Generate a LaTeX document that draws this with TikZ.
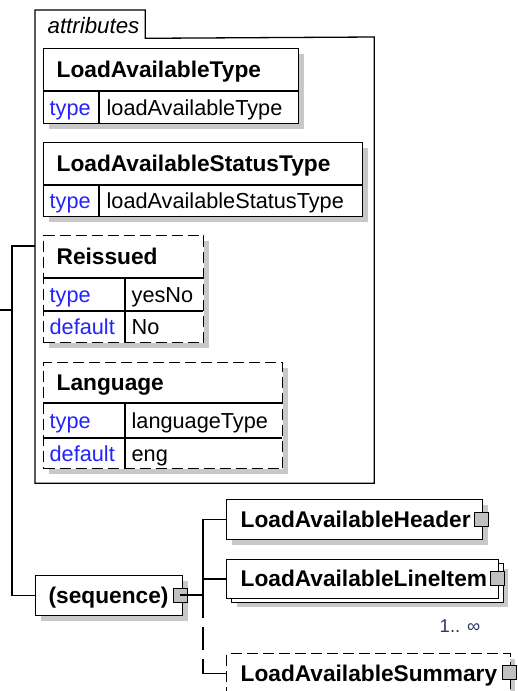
\documentclass[tikz,border=0pt]{standalone}
\usepackage{fontspec}
\setmainfont{Liberation Sans}
\usetikzlibrary{shadows}
\definecolor{keyblue}{RGB}{35,35,250}
\definecolor{occblue}{RGB}{45,55,95}
\definecolor{shade}{RGB}{200,200,200}
\definecolor{togglegray}{RGB}{192,192,192}
\begin{document}
\begin{tikzpicture}[x=1pt,y=-1pt,line width=1.3pt,
  box/.style={draw,fill=white,inner sep=0pt,anchor=north west,
    drop shadow={shadow xshift=5pt,shadow yshift=-5pt,fill=shade,opacity=1}},
  optbox/.style={box,dash pattern=on 11pt off 5pt},
  plainbox/.style={draw,fill=white,inner sep=0pt,anchor=north west},
  title/.style={font=\fontsize{22.7}{26}\selectfont\bfseries,inner sep=0pt,anchor=base west},
  key/.style={font=\fontsize{21.7}{25}\selectfont,text=keyblue,inner sep=0pt,anchor=base west},
  val/.style={font=\fontsize{21.7}{25}\selectfont,inner sep=0pt,anchor=base west},
  toggle/.style={draw,fill=togglegray,minimum size=14pt,inner sep=0pt,line width=1pt},
  optline/.style={dash pattern=on 23pt off 9pt,dash phase=23pt}]
\useasboundingbox (0,0) rectangle (517,691);
\node[inner sep=0pt,anchor=north west,minimum width=109pt,minimum height=27pt] (attrs-tab) at (35,10) {};
\node[inner sep=0pt,anchor=north west,minimum width=338pt,minimum height=445pt] (attrs) at (35,37) {};
\draw (attrs.south west) -- (attrs-tab.north west) -- (attrs-tab.north east) -- (attrs-tab.south east) -- (attrs.north east) -- (attrs.south east) -- cycle;
\node[font=\fontsize{22.3}{25}\selectfont\itshape,inner sep=0pt,anchor=base west] (attrs-label) at (47,33) {attributes};
\node[box,minimum width=255pt,minimum height=75pt] (lat) at (43,48) {};
\draw (43,91) -- (298,91);
\draw (99,91) -- (99,123);
\node[title] (lat-name) at (56,77) {LoadAvailableType};
\node[key] (lat-key) at (49,115) {type};
\node[val] (lat-val) at (106,115) {loadAvailableType};
\node[box,minimum width=319pt,minimum height=74pt] (last) at (43,142) {};
\draw (43,185) -- (362,185);
\draw (99,185) -- (99,216);
\node[title] (last-name) at (56,171) {LoadAvailableStatusType};
\node[key] (last-key) at (49,208) {type};
\node[val] (last-val) at (106,208) {loadAvailableStatusType};
\node[optbox,minimum width=160pt,minimum height=107pt] (reis) at (43,235) {};
\draw (43,278) -- (203,278);
\draw (43,311) -- (203,311);
\draw (125,278) -- (125,342);
\node[title] (reis-name) at (56,264) {Reissued};
\node[key] (reis-key1) at (49,302) {type};
\node[val] (reis-val1) at (131,302) {yesNo};
\node[key] (reis-key2) at (49,334) {default};
\node[val] (reis-val2) at (131,334) {No};
\node[optbox,minimum width=239pt,minimum height=106pt] (lang) at (43,362) {};
\draw (43,403) -- (282,403);
\draw (43,438) -- (282,438);
\draw (125,403) -- (125,468);
\node[title] (lang-name) at (56,390) {Language};
\node[key] (lang-key1) at (49,428) {type};
\node[val] (lang-val1) at (131,428) {languageType};
\node[key] (lang-key2) at (49,461) {default};
\node[val] (lang-val2) at (131,461) {eng};
\node[box,minimum width=147pt,minimum height=40pt] (seq) at (35,575) {};
\node[title] (seq-name) at (48,603) {(sequence)};
\node[toggle] (seq-tog) at (180,595) {};
\node[box,minimum width=256pt,minimum height=40pt] (hdr) at (226,499) {};
\node[title] (hdr-name) at (240,527) {LoadAvailableHeader};
\node[toggle] (hdr-tog) at (481,519.5) {};
\node[box,minimum width=271.5pt,minimum height=38.5pt] (item-back) at (231,563) {};
\node[plainbox,minimum width=271.5pt,minimum height=38.5pt] (item) at (226,559) {};
\node[title] (item-name) at (240,586) {LoadAvailableLineItem};
\node[toggle] (item-tog) at (497,578.5) {};
\node[font=\fontsize{18.5}{22}\selectfont,text=occblue,inner sep=0pt,anchor=base east] (item-occ) at (481,632) {1.. ∞};
\node[optbox,minimum width=283.5pt,minimum height=40pt] (sum) at (226,653) {};
\node[title] (sum-name) at (240,681) {LoadAvailableSummary};
\node[toggle] (sum-tog) at (509.5,672.5) {};
\coordinate (root) at (0,310);
\coordinate (bus) at (12,310);
\coordinate (attrs-in) at (35,246);
\coordinate (seqbus) at (203,595);
\coordinate (seqsplit) at (203,618);
\draw (root) -- (bus);
\draw (attrs-in) -| (bus) |- (seq.west);
\draw (seq-tog.center) -- (seqbus);
\draw (hdr.west) -| (seqsplit);
\draw (seqbus |- item.west) -- (item.west);
\draw[optline] (seqsplit) -- (seqbus |- sum.west);
\draw (seqbus |- sum.west) -- (sum.west);
\end{tikzpicture}
\end{document}
